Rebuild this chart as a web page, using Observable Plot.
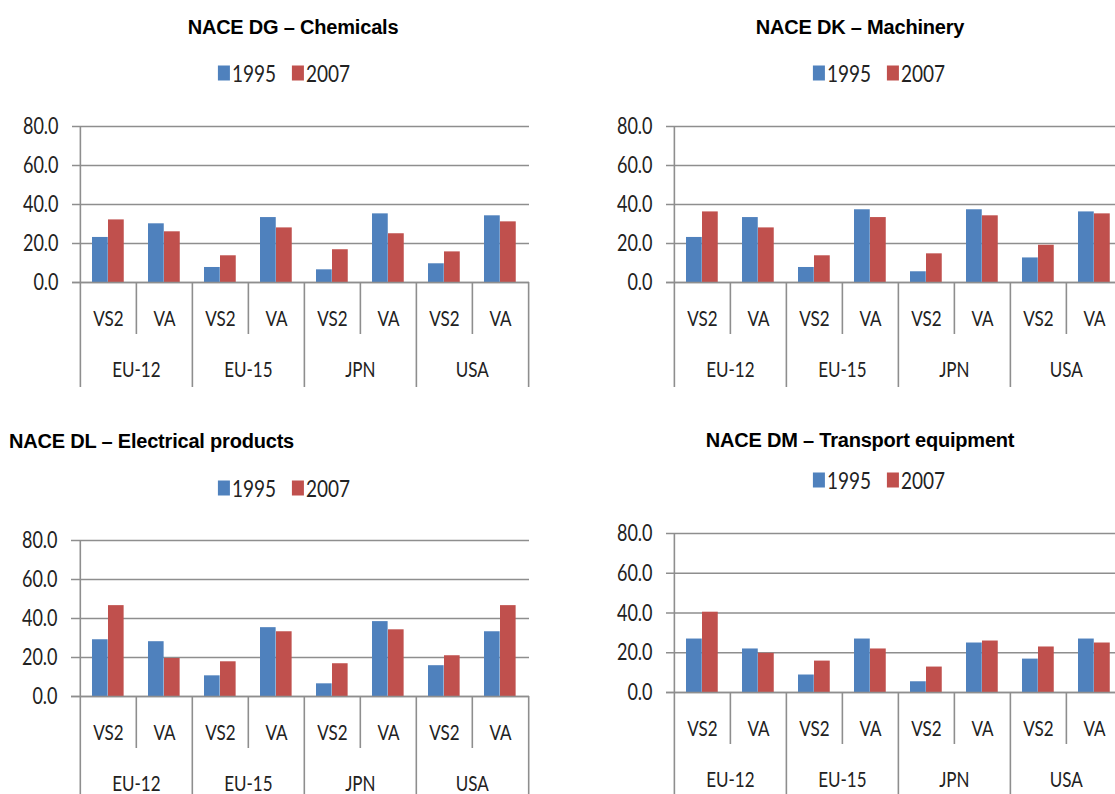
<!DOCTYPE html>
<html><head><meta charset="utf-8">
<script src="https://cdn.jsdelivr.net/npm/d3@7"></script>
<script src="https://cdn.jsdelivr.net/npm/@observablehq/plot@0.6"></script>
<style>
html,body{margin:0;padding:0;background:#fff}
body{width:1115px;height:794px;overflow:hidden;position:relative;font-family:Lato,"Open Sans",sans-serif}
.panel{position:absolute}
.title{position:absolute;font-family:"Liberation Sans",Arial,sans-serif;font-weight:bold;font-size:20px;letter-spacing:-0.2px;color:#000;white-space:nowrap;line-height:1}
.legend{position:absolute;display:flex;align-items:center;white-space:nowrap;font-family:Lato,sans-serif;font-size:19px;color:#222;line-height:1;transform:translate(-50%,-50%)}
.legend .sw{display:inline-block;width:12px;height:15px;margin-right:2px}
.legend .item{display:flex;align-items:center;margin-right:16px}
.legend .item:last-child{margin-right:0}
.legend .lab{display:inline-block;transform:scaleY(1.25)}
</style>
</head><body>
<script>
// ---- data ----
const groups = ["EU-12", "EU-15", "JPN", "USA"];
const measures = ["VS2", "VA"];
const years = ["1995", "2007"];
const yearColors = ["#4F81BD", "#C0504D"];
const yTicks = [0, 20, 40, 60, 80];
const titles = ["NACE DG \u2013 Chemicals", "NACE DK \u2013 Machinery", "NACE DL \u2013 Electrical products", "NACE DM \u2013 Transport equipment"];
// order: EU-12 VS2, EU-12 VA, EU-15 VS2, EU-15 VA, JPN VS2, JPN VA, USA VS2, USA VA
const dg1995 = [23.1, 30.1, 7.7, 33.3, 6.5, 35.2, 9.6, 34.2];
const dg2007 = [32.1, 26.0, 13.7, 28.0, 16.8, 25.0, 15.7, 31.1];
const dk1995 = [23.1, 33.3, 7.7, 37.3, 5.5, 37.3, 12.6, 36.2];
const dk2007 = [36.2, 28.0, 13.7, 33.3, 14.7, 34.2, 19.1, 35.2];
const dl1995 = [29.1, 28.1, 10.6, 35.3, 6.5, 38.4, 15.8, 33.2];
const dl2007 = [46.6, 19.5, 17.8, 33.2, 16.8, 34.2, 20.9, 46.6];
const dm1995 = [26.9, 21.9, 8.8, 26.9, 5.4, 24.9, 16.8, 26.9];
const dm2007 = [40.4, 19.7, 15.8, 21.9, 12.8, 25.9, 22.9, 24.9];

const keys = groups.flatMap(g => measures.map(m => g + "|" + m));
const gridColor = "#8e8e8e";
const textColor = "#222";
const textStretch = 1.28;

function stretchTexts(svg) {
  svg.querySelectorAll("text").forEach(t => {
    const bb = t.getBBox();
    const cy = bb.y + bb.height / 2;
    const orig = t.getAttribute("transform") || "";
    t.setAttribute("transform", `${orig} translate(0,${cy}) scale(1,${textStretch}) translate(0,${-cy})`.trim());
  });
}

function makePanel(cfg) {
  const {a, b, left, top, width, height, marginLeft, marginTop, plotH, plotW} = cfg;
  const rows = keys.map((k, i) => ({key: k, group: k.split("|")[0], measure: k.split("|")[1], y1995: a[i], y2007: b[i]}));
  const bw = plotW / keys.length;
  const u = 80 / plotH; // data units per pixel
  const marginRight = width - marginLeft - plotW;
  const marginBottom = height - marginTop - plotH;
  const groupRows = groups.map(g => ({group: g, key: g + "|" + measures[1]}));
  const chart = Plot.plot({
    width, height, marginLeft, marginRight, marginTop, marginBottom,
    x: {type: "band", domain: keys, padding: 0, axis: null},
    y: {domain: [0, 80], axis: null},
    style: {fontFamily: "Lato, 'Open Sans', sans-serif", background: "transparent", overflow: "visible"},
    marks: [
      Plot.ruleY(yTicks, {stroke: gridColor, strokeWidth: 1.6, insetLeft: -7}),
      Plot.barY(rows, {x: "key", y: "y1995", fill: yearColors[0], insetLeft: 12, insetRight: bw - 28}),
      Plot.barY(rows, {x: "key", y: "y2007", fill: yearColors[1], insetLeft: 28, insetRight: bw - 44}),
      Plot.ruleY([0], {stroke: gridColor, strokeWidth: 1.6, insetLeft: -7}),
      // y axis line
      Plot.ruleX([keys[0]], {x: d => d, dx: -bw / 2, y1: 80, y2: cfg.longPx * -u, stroke: gridColor, strokeWidth: 1.6}),
      // group dividers
      Plot.ruleX([keys[2], keys[4], keys[6]], {x: d => d, dx: -bw / 2, y1: 0, y2: cfg.longPx * -u, stroke: gridColor, strokeWidth: 1.6}),
      Plot.ruleX([keys[7]], {x: d => d, dx: bw / 2, y1: 0, y2: cfg.longPx * -u, stroke: gridColor, strokeWidth: 1.6}),
      // sub-category dividers
      Plot.ruleX([keys[1], keys[3], keys[5], keys[7]], {x: d => d, dx: -bw / 2, y1: 0, y2: -52 * u, stroke: gridColor, strokeWidth: 1.6}),
      Plot.axisY(yTicks, {tickSize: 0, tickPadding: 21, tickFormat: d3.format(".1f"), fontSize: 18, fill: textColor, label: null}),
      Plot.text(rows, {x: "key", y: -36 * u, text: "measure", fontSize: 17, fill: textColor}),
      Plot.text(groupRows, {x: "key", dx: -bw / 2, y: -87 * u, text: "group", fontSize: 17, fill: textColor})
    ]
  });
  chart.classList.add("panel");
  chart.style.left = left + "px";
  chart.style.top = top + "px";
  document.body.appendChild(chart);
  stretchTexts(chart);
}

function addTitle(text, x, y, align) {
  const d = document.createElement("div");
  d.className = "title";
  d.textContent = text;
  d.style.left = x + "px";
  d.style.top = y + "px";
  d.style.transform = align === "left" ? "translate(0,-50%)" : "translate(-50%,-50%)";
  document.body.appendChild(d);
}

function addLegend(x, y) {
  const d = document.createElement("div");
  d.className = "legend";
  d.style.left = x + "px";
  d.style.top = y + "px";
  years.forEach((yr, i) => {
    const it = document.createElement("span");
    it.className = "item";
    const sw = document.createElement("span");
    sw.className = "sw";
    sw.style.background = yearColors[i];
    it.appendChild(sw);
    const lab = document.createElement("span");
    lab.className = "lab";
    lab.textContent = yr;
    it.appendChild(lab);
    d.appendChild(it);
  });
  document.body.appendChild(d);
}

makePanel({a: dg1995, b: dg2007, left: 0, top: 100, width: 540, height: 300, marginLeft: 79, marginTop: 26, plotH: 156, plotW: 450, longPx: 105});
makePanel({a: dk1995, b: dk2007, left: 580, top: 100, width: 545, height: 300, marginLeft: 93, marginTop: 26, plotH: 156, plotW: 450, longPx: 105});
makePanel({a: dl1995, b: dl2007, left: 0, top: 514, width: 540, height: 280, marginLeft: 78, marginTop: 26, plotH: 156, plotW: 451, longPx: 120});
makePanel({a: dm1995, b: dm2007, left: 580, top: 507, width: 545, height: 287, marginLeft: 93, marginTop: 26, plotH: 159, plotW: 450, longPx: 120});

addTitle(titles[0], 293, 27, "center");
addTitle(titles[1], 860, 27, "center");
addTitle(titles[2], 9, 441, "left");
addTitle(titles[3], 860, 440, "center");

addLegend(284, 73);
addLegend(879, 73);
addLegend(284, 488);
addLegend(879, 480);
</script>
</body></html>
